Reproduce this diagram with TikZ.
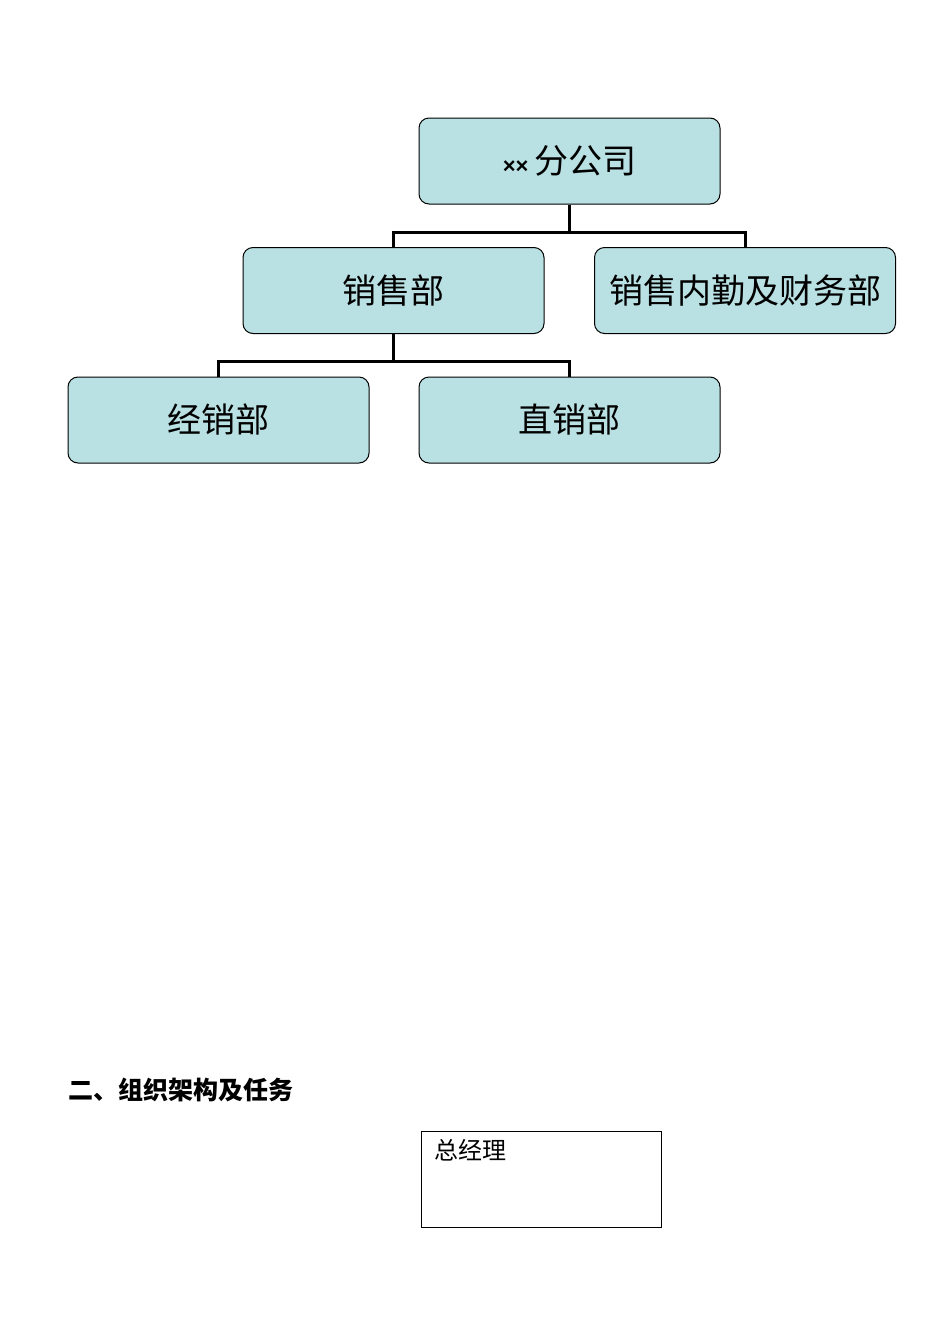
\documentclass[tikz,border=0pt]{standalone}
\usepackage{fontspec}
\setmainfont{Noto Sans CJK SC}
\newfontfamily\cjk{Noto Sans CJK SC}
\newfontfamily\latinsans{Liberation Sans}
\usetikzlibrary{positioning}
\definecolor{deptfill}{RGB}{185,224,227}
\tikzset{
  dept/.style={draw=black, line width=0.5pt, fill=deptfill, rounded corners=5pt,
    minimum width=150.5pt, minimum height=43pt, inner sep=0pt, font=\cjk\fontsize{17}{18}\selectfont},
  conn/.style={line width=1.5pt},
  gmbox/.style={draw=black, line width=0.5pt, minimum width=120pt, minimum height=48pt, inner sep=0pt}
}
\begin{document}
\begin{tikzpicture}[x=0.5pt,y=-0.5pt]
  \useasboundingbox (0,0) rectangle (950,1344);
  % 上段: 分公司とその下の二部門
  \node[dept] (hq) at (569.5,161) {{\latinsans\bfseries\fontsize{11}{12}\selectfont ××}\,分公司};
  \node[dept] (sales) at (393.5,290.5) {销售部};
  \node[dept] (inner) at (745,290.5) {销售内勤及财务部};
  \node[dept] (dist) at (218.5,420) {经销部};
  \node[dept] (direct) at (569.5,420) {直销部};
  \draw[conn] (hq.south) -- ++(0,29);
  \draw[conn] (sales.north) -- ++(0,-15) -| (inner.north);
  \draw[conn] (sales.south) -- ++(0,29);
  \draw[conn] (dist.north) -- ++(0,-15) -| (direct.north);
  % 下段: 見出しと総経理の枠
  \node[anchor=west, inner sep=0pt, font=\cjk\bfseries\fontsize{12.5}{14}\selectfont] (title) at (68,1090) {二、组织架构及任务};
  \node[gmbox] (gm) at (541,1179) {};
  \node[anchor=north west, inner sep=0pt, font=\cjk\fontsize{12}{14}\selectfont] (gmtext) at ([shift={(14,8)}]gm.north west) {总经理};
\end{tikzpicture}
\end{document}
